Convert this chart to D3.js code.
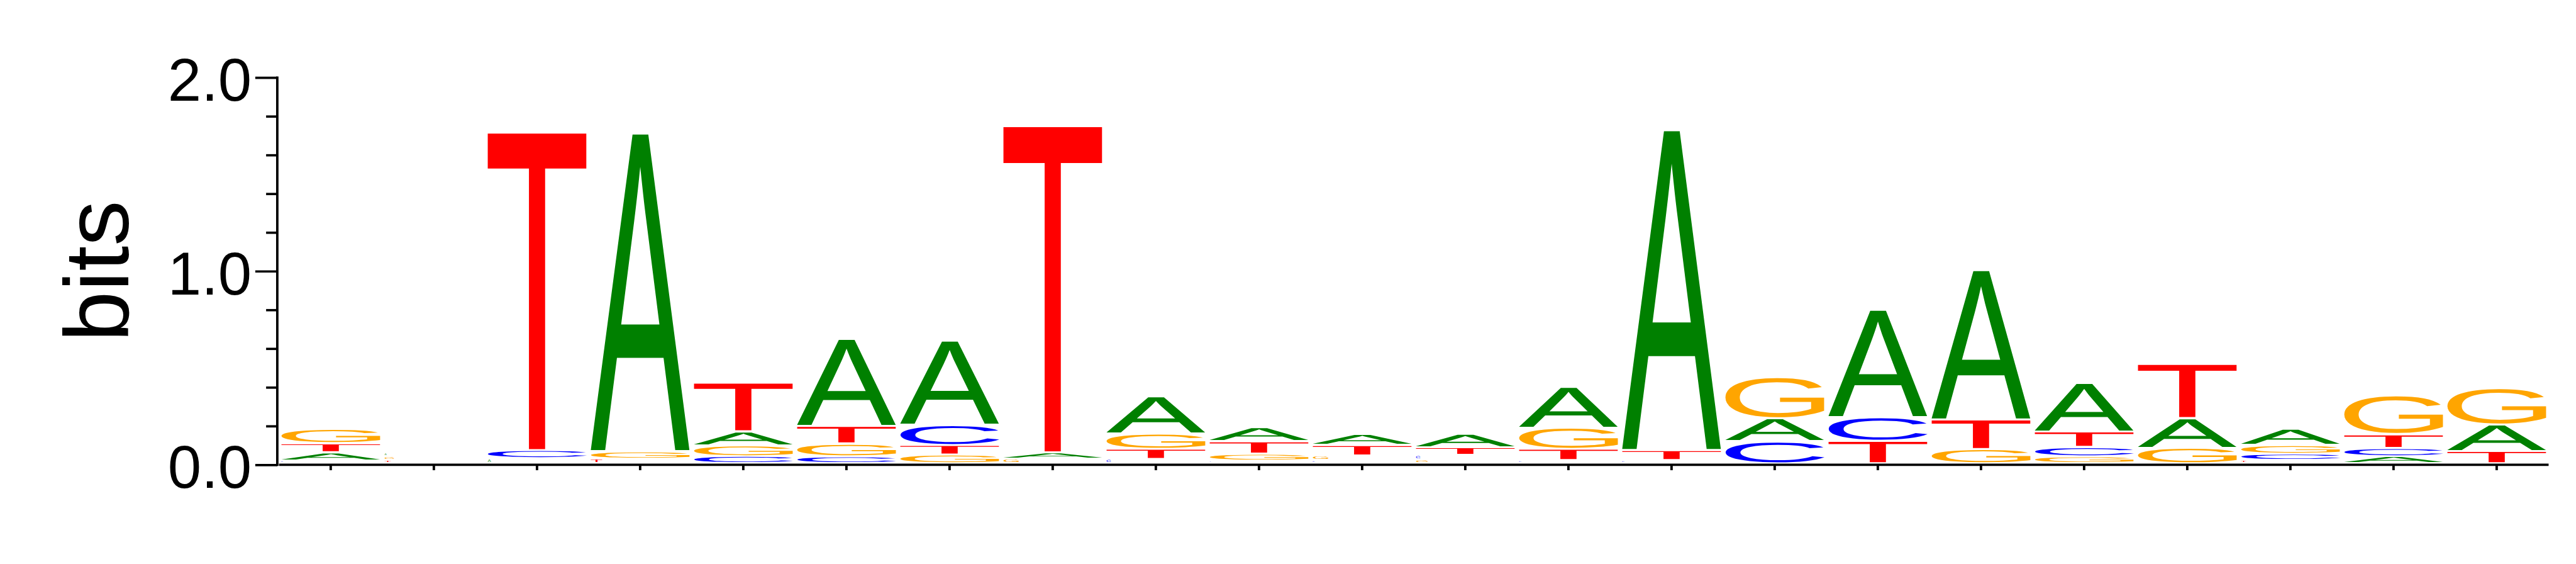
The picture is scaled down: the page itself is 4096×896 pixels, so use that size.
<!DOCTYPE html>
<html>
<head>
<meta charset="utf-8">
<script src="https://cdn.jsdelivr.net/npm/d3@7"></script>
<style>
  html, body { margin: 0; padding: 0; background: #ffffff; overflow: hidden; }
</style>
</head>
<body>
<svg id="chart" width="4096" height="896"></svg>
<script>
// ---------------- data (bits per base at each position) ----------------
const positions = d3.range(1, 23);
const bases = ["A", "C", "G", "T"];
const bitsA = [0.031, 0.009, 0.014, 1.629, 0.061, 0.438, 0.423, 0.021, 0.181, 0.061, 0.045,
               0.059, 0.200, 1.640, 0.107, 0.544, 0.760, 0.240, 0.142, 0.071, 0.026, 0.126];
const bitsC = [0.004, 0.000, 0.031, 0.000, 0.026, 0.025, 0.093, 0.000, 0.011, 0.003, 0.005,
               0.011, 0.005, 0.005, 0.102, 0.111, 0.000, 0.037, 0.000, 0.022, 0.031, 0.000];
const bitsG = [0.064, 0.008, 0.000, 0.027, 0.045, 0.055, 0.034, 0.013, 0.067, 0.024, 0.013,
               0.010, 0.098, 0.000, 0.203, 0.000, 0.062, 0.025, 0.069, 0.034, 0.189, 0.177];
const bitsT = [0.035, 0.007, 1.629, 0.013, 0.240, 0.080, 0.039, 1.673, 0.042, 0.053, 0.043,
               0.029, 0.048, 0.041, 0.000, 0.105, 0.142, 0.069, 0.269, 0.006, 0.059, 0.053];
const yTickValues = [0, 1, 2];
const yTickLabels = ["0.0", "1.0", "2.0"];
const yMinorTicks = [0.2, 0.4, 0.6, 0.8, 1.2, 1.4, 1.6, 1.8];
const yLabel = "bits";

// ---------------- styles ----------------
const baseColors = { A: "#008000", C: "#0000FF", G: "#FFA500", T: "#FF0000" };
const FONT = "Liberation Sans";
const S = 0.82;                 // reference -> window scale
const AXW = 4.5;                // axis stroke width (reference px)

const svg = d3.select("#chart");
svg.append("rect").attr("width", 4096).attr("height", 896).attr("fill", "#fff");
const root = svg.append("g").attr("transform", `scale(${S})`);

// scales in reference coordinates
const y = d3.scaleLinear().domain([0, 2]).range([900.5, 150.3]);
const x = d3.scaleBand().domain(positions).range([541.3, 4941.3]).padding(0);
const yAxisX = 537.7;

// ---------------- glyph ink bounds, found by scanning canvas pixels ----------------
function inkBounds(ch) {
  const FS = 400, W = 800, H = 800, bx = 200, by = 600;
  const cv = document.createElement("canvas");
  cv.width = W; cv.height = H;
  const ctx = cv.getContext("2d");
  ctx.fillStyle = "#fff"; ctx.fillRect(0, 0, W, H);
  ctx.fillStyle = "#000";
  ctx.font = `${FS}px "${FONT}", "Liberation Sans", sans-serif`;
  ctx.fillText(ch, bx, by);
  const data = ctx.getImageData(0, 0, W, H).data;
  let x0 = W, x1 = -1, y0 = H, y1 = -1;
  for (let yy = 0; yy < H; yy++) {
    for (let xx = 0; xx < W; xx++) {
      if (data[(yy * W + xx) * 4] < 128) {
        if (xx < x0) x0 = xx; if (xx > x1) x1 = xx;
        if (yy < y0) y0 = yy; if (yy > y1) y1 = yy;
      }
    }
  }
  const k = 1000 / FS;
  return { l: (bx - x0) * k, r: (x1 + 1 - bx) * k, a: (by - y0) * k, d: (y1 + 1 - by) * k };
}

function draw() {
  const FS = 1000;
  const metrics = {};
  bases.forEach(b => { metrics[b] = inkBounds(b); });

  // ---------------- letters ----------------
  const series = { A: bitsA, C: bitsC, G: bitsG, T: bitsT };
  const narrowK = { A: 1.2, C: 2, G: 6, T: 4.5 };
  const pad = 4.5, gap = 4.2, stackStart = 895.5;
  const letters = root.append("g").attr("class", "letters");

  positions.forEach((p, i) => {
    const col = bases.map(b => ({ b, v: series[b][i] }))
                     .filter(d => d.v > 0)
                     .sort((a, c) => a.v - c.v);
    let bottom = stackStart;
    const fullW = x.bandwidth() - 2 * pad;
    col.forEach(d => {
      const h = y(0) - y(d.v);
      const top = bottom - h;
      const w = h < 6 ? Math.max(2, Math.min(fullW, h * narrowK[d.b])) : fullW;
      const m = metrics[d.b];
      const sx = w / (m.l + m.r), sy = h / (m.a + m.d);
      letters.append("text")
        .text(d.b)
        .attr("font-family", FONT)
        .attr("font-size", FS)
        .attr("fill", baseColors[d.b])
        .attr("text-rendering", "geometricPrecision")
        .attr("transform", `translate(${x(p) + pad},${top}) scale(${sx},${sy}) translate(${m.l},${m.a})`);
      bottom = top - gap;
    });
  });

  // ---------------- y axis ----------------
  const yAxisG = root.append("g").attr("transform", `translate(${yAxisX},0)`);
  yAxisG.call(d3.axisLeft(y).tickValues(yTickValues)
        .tickFormat((d, i) => yTickLabels[i]).tickSize(42.7).tickPadding(7))
    .call(g => g.select(".domain").remove());
  yAxisG.selectAll(".tick line").attr("stroke", "#000").attr("stroke-width", AXW);
  yAxisG.selectAll(".tick text")
    .attr("font-family", FONT).attr("font-size", 117).attr("fill", "#000").attr("dy", "0.38em");

  const yMinorG = root.append("g").attr("transform", `translate(${yAxisX},0)`);
  yMinorG.call(d3.axisLeft(y).tickValues(yMinorTicks).tickFormat("").tickSize(21.7))
    .call(g => g.select(".domain").remove());
  yMinorG.selectAll(".tick line").attr("stroke", "#000").attr("stroke-width", AXW);

  root.append("line")
    .attr("x1", yAxisX).attr("x2", yAxisX)
    .attr("y1", y(2) - 2.2).attr("y2", y(0) + 2.2)
    .attr("stroke", "#000").attr("stroke-width", 4.7);

  root.append("text")
    .text(yLabel)
    .attr("font-family", FONT).attr("font-size", 176).attr("fill", "#000")
    .attr("text-anchor", "middle")
    .attr("transform", `translate(249,${(y(0) + y(2)) / 2}) rotate(-90)`);

  // ---------------- x axis ----------------
  const xAxisG = root.append("g").attr("transform", `translate(0,${y(0)})`);
  xAxisG.call(d3.axisBottom(x).tickFormat("").tickSize(10.5))
    .call(g => g.select(".domain").remove());
  xAxisG.selectAll(".tick line").attr("stroke", "#000").attr("stroke-width", 4.7);
  root.append("line")
    .attr("x1", 541).attr("x2", x.range()[1] + 0.7)
    .attr("y1", y(0)).attr("y2", y(0))
    .attr("stroke", "#000").attr("stroke-width", 4.4);
}

let drawn = false;
function drawOnce() { if (!drawn) { drawn = true; draw(); } }
if (document.fonts && document.fonts.load) {
  document.fonts.load(`400px "${FONT}"`, "ACGT").then(drawOnce, drawOnce);
  setTimeout(drawOnce, 1500);
} else {
  drawOnce();
}
</script>
</body>
</html>
